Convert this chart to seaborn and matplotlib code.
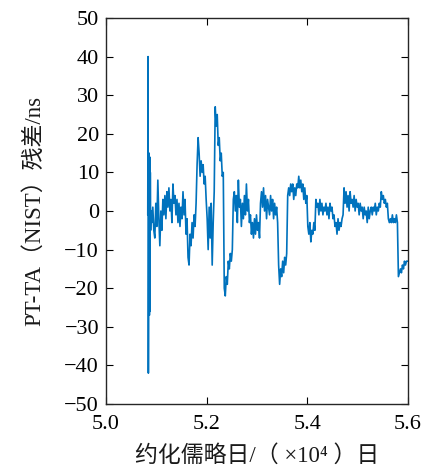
import matplotlib
matplotlib.use("Agg")
import matplotlib.pyplot as plt
import seaborn as sns
import pandas as pd

# ---- data (MJD in days, residual in ns) ----
spike_mjd = [50830, 50836, 50842, 50850, 50856, 50862, 50868, 50874, 50880, 50886, 50896]
spike_ns = [-1, 40, -42, 2, 15, -27, 14, -26, 10, -5, 0]

main_mjd = [
    50910, 50930, 50950, 50970, 50990, 51010, 51030, 51050, 51070, 51090,
    51110, 51130, 51150, 51170, 51190, 51210, 51230, 51250, 51270, 51290,
    51310, 51330, 51350, 51370, 51390, 51410, 51430, 51450, 51470, 51490,
    51510, 51530, 51550, 51570, 51590, 51610, 51630, 51650, 51670, 51690,
    51710, 51730, 51750, 51770, 51790, 51810, 51830, 51850, 51870, 51890,
    51910, 51930, 51950, 51970, 51990, 52010, 52030, 52050, 52070, 52090,
    52110, 52130, 52150, 52170, 52190, 52210, 52230, 52250, 52270, 52290,
    52310, 52330, 52350, 52370, 52390, 52410, 52430, 52450, 52470, 52490,
    52510, 52530, 52550, 52570, 52590, 52610, 52630, 52650, 52670, 52690,
    52710, 52730, 52750, 52770, 52790, 52810, 52830, 52850, 52870, 52890,
    52910, 52930, 52950, 52970, 52990, 53010, 53030, 53050, 53070, 53090,
    53110, 53130, 53150, 53170, 53190, 53210, 53230, 53250, 53270, 53290,
    53310, 53330, 53350, 53370, 53390, 53410, 53430, 53450, 53470, 53490,
    53510, 53530, 53550, 53570, 53590, 53610, 53630, 53650, 53670, 53690,
    53710, 53730, 53750, 53770, 53790, 53810, 53830, 53850, 53870, 53890,
    53910, 53930, 53950, 53970, 53990, 54010, 54030, 54050, 54070, 54090,
    54110, 54130, 54150, 54170, 54190, 54210, 54230, 54250, 54270, 54290,
    54310, 54330, 54350, 54370, 54390, 54410, 54430, 54450, 54470, 54490,
    54510, 54530, 54550, 54570, 54590, 54610, 54630, 54650, 54670, 54690,
    54710, 54730, 54750, 54770, 54790, 54810, 54830, 54850, 54870, 54890,
    54910, 54930, 54950, 54970, 54990, 55010, 55030, 55050, 55070, 55090,
    55110, 55130, 55150, 55170, 55190, 55210, 55230, 55250, 55270, 55290,
    55310, 55330, 55350, 55370, 55390, 55410, 55430, 55450, 55470, 55490,
    55510, 55530, 55550, 55570, 55590, 55610, 55630, 55650, 55670, 55690,
    55710, 55730, 55750, 55770, 55790, 55810, 55830, 55850, 55870, 55890,
    55910, 55930, 55950, 55970, 55990,
]
main_ns = [
    -3, 1, -5, -7, 2, -4, 8, -2, -9, 0,
    -5, 3, -1, 4, -2, 5, 1, 6, 0, 3,
    -3, 7, 2, 4, -1, 3, -3, 2, -4, 1,
    -2, 5, -1, 3, -6, -2, -12, -14, -6, -9,
    -3, -7, -1, -4, 2, 12, 19, 15, 9, 13,
    10, 12, 7, 9, 3, -2, -10, 1, -7, 2,
    -14, -3, 5, 27, 22, 25, 17, 19, 13, 15,
    9, 10, -20, -22, -17, -19, -13, -15, -11, -13,
    -10, 3, 5, 0, 4, -3, 8, 1, 3, -4,
    2, -2, 4, -1, 7, 0, 3, -3, -1, -6,
    -3, -7, -2, -6, -1, -5, -3, -7, 2, 5,
    1, 6, 0, 4, -2, 3, 1, -1, 4, 0,
    3, -2, 2, -1, 1, -3, -14, -19, -15, -17,
    -13, -16, -12, -14, -11, 4, 6, 4, 7, 5,
    7, 3, 6, 4, 7, 6, 9, 6, 8, 5,
    7, 3, 6, 2, 4, -4, -6, -3, -8, -5,
    -6, -3, -5, 3, 1, 2, -1, 3, 0, 2,
    -1, 1, 0, 2, -1, 1, -2, 2, 0, 1,
    -2, -1, -4, -3, -6, -2, -5, -3, -4, -2,
    -1, 6, 2, 5, 1, 4, 0, 5, 2, 3,
    1, 4, 0, 3, 1, 2, -1, 2, 0, 1,
    -2, 1, -1, 0, -3, 1, -2, 0, 1, -1,
    1, 0, 2, -1, 1, 0, 2, 1, 5, 3,
    4, 2, 3, 1, 2, -2, -3, -2, -3, -1,
    -3, -2, -3, -1, -3, -17, -16, -15, -16, -14,
    -15, -13, -14, -13, -13,
]

x_ticks = [5.0, 5.2, 5.4, 5.6]
y_ticks = [-50, -40, -30, -20, -10, 0, 10, 20, 30, 40, 50]
x_label = "约化儒略日/（ ×10\u2074 ）日"
y_label = "PT-TA（NIST）残差/ns"

# ---- build frame ----
df = pd.DataFrame({
    "mjd": spike_mjd + main_mjd,
    "ns": spike_ns + main_ns,
})
df["mjd1e4"] = df["mjd"] / 1e4

sns.set_theme(style="ticks")
plt.rcParams["font.family"] = ["Liberation Serif", "Noto Sans CJK SC", "DejaVu Sans"]
plt.rcParams["axes.unicode_minus"] = True

fig = plt.figure(figsize=(4.30, 4.74), dpi=100)
ax = fig.add_axes([0.2465, 0.1477, 0.7023, 0.8143])

sns.lineplot(data=df, x="mjd1e4", y="ns", ax=ax, estimator=None, sort=False,
             color="#0072BD", linewidth=1.2)

ax.set_xlim(5.0, 5.6)
ax.set_ylim(-50, 50)
ax.set_xticks(x_ticks)
ax.set_xticklabels([f"{v:.1f}" for v in x_ticks])
ax.set_yticks(y_ticks)
ax.set_yticklabels([str(v).replace("-", "\u2212") for v in y_ticks])
ax.tick_params(direction="in", top=True, right=True, length=5, width=0.8,
               labelsize=16, colors="black", pad=5)
ax.tick_params(axis="x", pad=8)
for s in ax.spines.values():
    s.set_visible(True)
    s.set_linewidth(1.0)
    s.set_color("#262626")

ax.set_xlabel(x_label, fontsize=16.5, color="#1a1a1a", labelpad=8)
ax.set_ylabel(y_label, fontsize=16.5, color="#1a1a1a", labelpad=14)

fig.savefig("out.png", dpi=100)
